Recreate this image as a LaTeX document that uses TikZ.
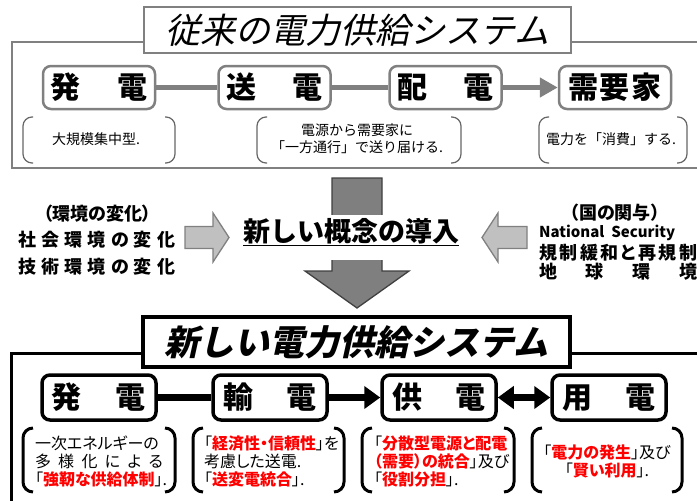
\documentclass[tikz,border=0pt]{standalone}
\usepackage{fontspec}
\setmainfont{Noto Sans CJK JP}
\newfontfamily\jpp{Noto Sans CJK JP}[RawFeature=+palt]
\newfontfamily\jpit{Noto Sans CJK JP}[FakeSlant=0.22]
\usetikzlibrary{arrows.meta}
\definecolor{tgray}{HTML}{808080}
\definecolor{lgray}{HTML}{C0C0C0}
\definecolor{agray}{HTML}{7F7F7F}
\definecolor{jred}{HTML}{FF0000}
\newcommand\spreadto[2]{\makebox[#1][s]{#2}}
\newcommand\rb[1]{\textcolor{jred}{\bfseries #1}}
\tikzset{
  titlebox/.style={fill=white, inner sep=0pt, minimum width=427pt},
  topstep/.style={draw=tgray, line width=2.5pt, rounded corners=8pt, fill=white,
    minimum width=112pt, minimum height=43pt, inner sep=0pt,
    font=\fontsize{30}{30}\selectfont\bfseries},
  botstep/.style={draw=black, line width=3.5pt, rounded corners=8pt, fill=white,
    minimum width=114pt, minimum height=45pt, inner sep=0pt,
    font=\fontsize{30}{30}\selectfont\bfseries},
  topbrk/.style={draw=tgray!80!black, line width=1.2pt, rounded corners=9pt},
  botbrk/.style={draw=black, line width=3pt, rounded corners=10pt},
  topconn/.style={draw=tgray, line width=5pt},
  botconn/.style={draw=black, line width=6.5pt},
  toptext/.style={inner sep=0pt, align=center, font=\fontsize{14}{17}\selectfont},
  bottext/.style={inner sep=0pt, font=\jpp\fontsize{16}{18}\selectfont},
  midtext/.style={inner sep=0pt, font=\jpp\fontsize{18}{20}\selectfont\bfseries},
  smallarrow/.style={fill=lgray, draw=tgray, line width=1.3pt, line join=miter},
  bigarrow/.style={fill=agray, draw=black!75, line width=1.3pt, line join=miter}
}
\begin{document}
\begin{tikzpicture}[x=1pt,y=-1pt]
\useasboundingbox (0,0) rectangle (697,501);
\clip (0,0) rectangle (697,501);
\fill[white] (0,0) rectangle (697,501);

% ---------- top section ----------
\draw[tgray, line width=2pt] (144,42) -- (12,42) -- (12,168) -- (705,168);
\draw[tgray, line width=2pt] (571,42) -- (705,42);
\node[titlebox, draw=tgray, line width=2pt, minimum height=46pt,
  font=\jpit\fontsize{35}{35}\selectfont] (t1) at (357.5,30) {従来の電力供給システム};

\node[topstep] (ts1) at (99,87.5)    {\spreadto{97pt}{発\hfill 電}};
\node[topstep] (ts2) at (274.5,87.5) {\spreadto{97pt}{送\hfill 電}};
\node[topstep] (ts3) at (445.5,87.5) {\spreadto{97pt}{配\hfill 電}};
\node[topstep] (ts4) at (615,87.5)   {\spreadto{94pt}{需\hfill 要\hfill 家}};
\draw[topconn] (ts1.east) -- (ts2.west);
\draw[topconn] (ts2.east) -- (ts3.west);
\draw[topconn, -{Triangle[length=18pt,width=19pt]}] (ts3.east) -- (ts4.west);

\draw[topbrk] (33,117) -- (23,117) -- (23,163) -- (33,163);
\draw[topbrk] (165,117) -- (175,117) -- (175,163) -- (165,163);
\draw[topbrk] (267,117) -- (257,117) -- (257,163) -- (267,163);
\draw[topbrk] (451,117) -- (461,117) -- (461,163) -- (451,163);
\draw[topbrk] (549,117) -- (539,117) -- (539,163) -- (549,163);
\draw[topbrk] (677,117) -- (687,117) -- (687,163) -- (677,163);
\node[toptext] (tb1) at (96,139) {大規模集中型.};
\node[toptext] (tb2) at (357,138.5) {電源から需要家に\\「一方通行」で送り届ける.};
\node[toptext] (tb3) at (611,139) {電力を「消費」する.};

% ---------- middle ----------
\draw[bigarrow] (332,178) -- (382,178) -- (382,271) -- (409,271) -- (357,308)
  -- (305,271) -- (332,271) -- cycle;
\node[fill=white, inner xsep=1pt, inner ysep=2pt, text height=24pt, text depth=17pt,
  anchor=base, font=\fontsize{27}{27}\selectfont\bfseries] (ct) at (351,241)
  {\underline{新しい概念の導入}};
\draw[smallarrow] (185,226.5) -- (213,226.5) -- (213,213) -- (229,237.5) -- (213,262)
  -- (213,248.5) -- (185,248.5) -- cycle;
\draw[smallarrow] (527,226.5) -- (498,226.5) -- (498,213) -- (482,237.5) -- (498,262)
  -- (498,248.5) -- (527,248.5) -- cycle;

\node[midtext] (l1) at (97.5,214) {（環境の変化）};
\node[midtext, anchor=west] (l2) at (18,239.5) {\spreadto{157pt}{社\hfill 会\hfill 環\hfill 境\hfill の\hfill 変\hfill 化}};
\node[midtext, anchor=west] (l3) at (18,266.5) {\spreadto{157pt}{技\hfill 術\hfill 環\hfill 境\hfill の\hfill 変\hfill 化}};

\node[midtext] (r1) at (615,213) {（国の関与）};
\node[midtext, anchor=west, font=\fontsize{15}{18}\selectfont\bfseries] (r2) at (539,233) {National\ \ Security};
\node[midtext, anchor=west] (r3) at (539,252.5) {\spreadto{158pt}{規\hfill 制\hfill 緩\hfill 和\hfill と\hfill 再\hfill 規\hfill 制}};
\node[midtext, anchor=west] (r4) at (539,271.5) {\spreadto{158pt}{地\hfill 球\hfill 環\hfill 境}};

% ---------- bottom section ----------
\draw[black, line width=3pt] (143,353) -- (11,353) -- (11,510);
\draw[black, line width=3pt] (570,353) -- (705,353);
\node[titlebox, draw=black, line width=3.5pt, minimum height=50pt,
  font=\jpit\fontsize{35}{35}\selectfont\bfseries] (t2) at (356.5,342) {新しい電力供給システム};

\node[botstep] (bs1) at (99,397.5)  {\spreadto{94pt}{発\hfill 電}};
\node[botstep] (bs2) at (270,397.5) {\spreadto{94pt}{輸\hfill 電}};
\node[botstep] (bs3) at (439,397.5) {\spreadto{94pt}{供\hfill 電}};
\node[botstep] (bs4) at (609,397.5) {\spreadto{94pt}{用\hfill 電}};
\draw[botconn] (bs1.east) -- (bs2.west);
\draw[botconn, -{Triangle[length=16pt,width=22pt]}] (bs2.east) -- (bs3.west);
\draw[botconn, {Triangle[length=16pt,width=22pt]}-{Triangle[length=16pt,width=22pt]}] (bs3.east) -- (bs4.west);

\draw[botbrk] (33,428) -- (23,428) -- (23,492) -- (33,492);
\draw[botbrk] (165,428) -- (175,428) -- (175,492) -- (165,492);
\draw[botbrk] (203,428) -- (193,428) -- (193,492) -- (203,492);
\draw[botbrk] (334,428) -- (344,428) -- (344,492) -- (334,492);
\draw[botbrk] (372,428) -- (362,428) -- (362,492) -- (372,492);
\draw[botbrk] (504,428) -- (514,428) -- (514,492) -- (504,492);
\draw[botbrk] (542,428) -- (532,428) -- (532,492) -- (542,492);
\draw[botbrk] (672,428) -- (682,428) -- (682,492) -- (672,492);

\node[bottext, text width=128pt, align=left] (bb1) at (99,461)
  {一次エネルギーの\\
   \spreadto{128pt}{多\hfill 様\hfill 化\hfill に\hfill よ\hfill る}\\
   「\rb{強靭な供給体制}」.};
\node[bottext, text width=132pt, align=left] (bb2) at (270,461)
  {「\rb{経済性・信頼性}」を\\
   考慮した送電.\\
   「\rb{送変電統合}」.};
\node[bottext, text width=132pt, align=left] (bb3) at (440,461)
  {「\rb{分散型電源と配電}\\
   \rb{（需要）の統合}」及び\\
   「\rb{役割分担}」.};
\node[bottext, align=center] (bb4) at (607,461.5)
  {「\rb{電力の発生}」及び\\
   「\rb{賢い利用}」.};
\end{tikzpicture}
\end{document}
